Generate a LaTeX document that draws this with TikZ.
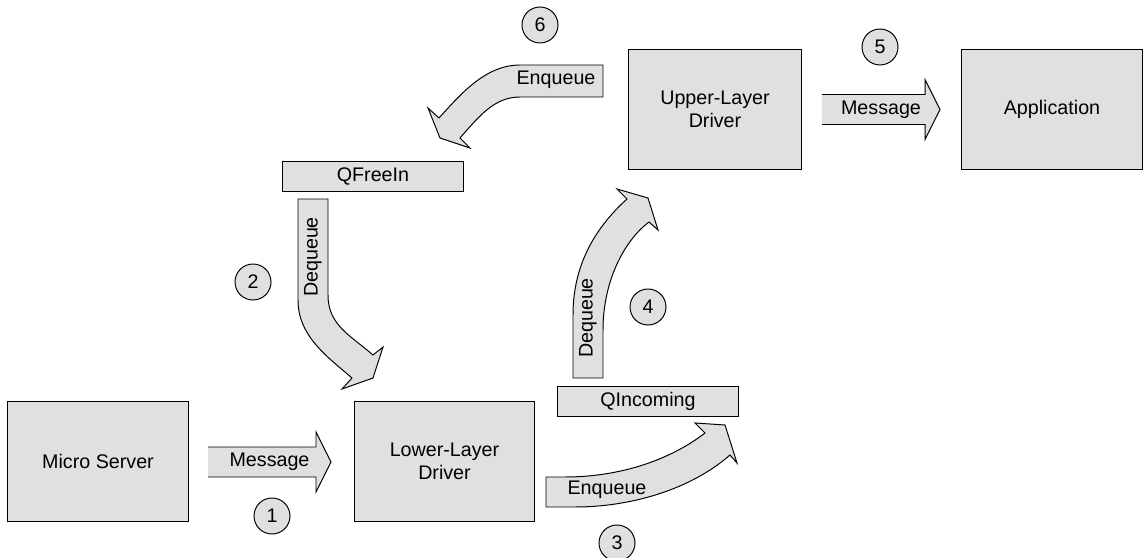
\documentclass[tikz,border=0pt]{standalone}
\usepackage{fontspec}
\setmainfont{Liberation Sans}
\usepackage{tikz}
\definecolor{boxgray}{RGB}{224,224,224}

\begin{document}
\begin{tikzpicture}[x=0.025cm,y=-0.025cm,line width=0.7pt,
    font=\fontsize{14}{16.5}\selectfont,
    unit/.style={draw,fill=boxgray,minimum width=4.5cm,minimum height=2.975cm,align=center,inner sep=0pt},
    queue/.style={draw,fill=boxgray,minimum width=4.5cm,minimum height=0.75cm,inner sep=0pt},
    num/.style={circle,draw,fill=boxgray,minimum size=0.9cm,inner sep=0pt},
    blockarrow/.style={draw,fill=boxgray,line join=miter}]
    \useasboundingbox (0,0) rectangle (1145,558);
    % Drivers and end points
    \node[unit] (server) at (98,461.5) {Micro Server};
    \node[unit] (lower) at (444.5,461.5) {Lower-Layer\\Driver};
    \node[unit,minimum width=4.3cm] (upper) at (715,109.5) {Upper-Layer\\Driver};
    \node[unit] (app) at (1052,109.5) {Application};
    % Queues
    \node[queue] (qfree) at (373,176) {QFreeIn};
    \node[queue] (qin) at (648,401.5) {QIncoming};
    % Straight message arrows (no line at the tail)
    \foreach \n/\x/\y/\l in {1/208/462/108, 5/822/109.5/103} {
      \fill[boxgray] (\x,\y-15) -- (\x+\l,\y-15) -- (\x+\l,\y-30) -- (\x+\l+15,\y)
        -- (\x+\l,\y+30) -- (\x+\l,\y+15) -- (\x,\y+15) -- cycle;
      \draw[line join=miter] (\x,\y-15) -- (\x+\l,\y-15) -- (\x+\l,\y-30) -- (\x+\l+15,\y)
        -- (\x+\l,\y+30) -- (\x+\l,\y+15) -- (\x,\y+15);
      \node (msg\n) at ({\x+(\l+15)/2},\y) {Message};
    }
    % Curved queue arrows
    \draw[blockarrow] (603,65) -- (520,65) .. controls (485,65) and (460,95) .. (439,118)
      -- (428,108) -- (440,138) -- (470,148) -- (460,138)
      .. controls (480,115) and (495,97) .. (520,97) -- (603,97) -- cycle;
    \draw[blockarrow] (298,199) -- (328,199) -- (328,295) .. controls (328,325) and (350,335) .. (373,355)
      -- (383,347) -- (373,378) -- (342,389) -- (352,378)
      .. controls (325,355) and (298,335) .. (298,300) -- cycle;
    \draw[blockarrow] (573,378) -- (603,378) -- (603,330) .. controls (603,280) and (625,240) .. (649,222)
      -- (658,230) -- (648,198) -- (617,189) -- (627,199)
      .. controls (595,228) and (573,265) .. (573,315) -- cycle;
    \draw[blockarrow] (546,477) -- (565,477) .. controls (620,477) and (670,460) .. (705,433)
      -- (695,423) -- (725,425) -- (737,463) -- (730,455)
      .. controls (690,490) and (630,507) .. (575,507) -- (546,507) -- cycle;
    \node (enqtop) at (556,80) {Enqueue};
    \node (enqbot) at (607,490) {Enqueue};
    \node[rotate=90] (deqleft) at (313,257) {Dequeue};
    \node[rotate=90] (deqright) at (588,318) {Dequeue};
    % Step numbers
    \foreach \n/\x/\y in {1/272/516, 2/253/282, 3/617/543, 4/648/307, 5/880/47, 6/540/25}
      \node[num] (step\n) at (\x,\y) {\n};
\end{tikzpicture}
\end{document}
